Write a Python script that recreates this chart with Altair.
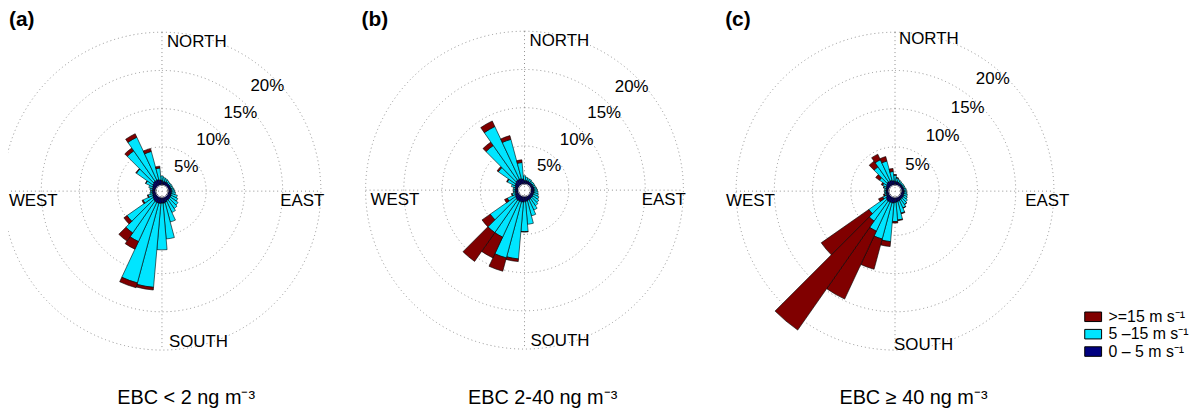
import math
import altair as alt
import pandas as pd

# ---------------- data ----------------
DIRECTIONS = list(range(0, 360, 10))          # sector centres, degrees from north
SECTOR_HALF = 5                                # half sector width (deg)
SPEED_CLASSES = [">=15 m s⁻¹", "5 –15 m s⁻¹", "0 – 5 m s⁻¹"]
SPEED_COLORS = ["#800000", "#00E5FF", "#000080"]
RING_PCTS = [5, 10, 15, 20]
RING_TEXT = ["5%", "10%", "15%", "20%"]
TAGS = ["(a)", "(b)", "(c)"]
SUBTITLES = ["EBC < 2 ng m⁻³", "EBC 2-40 ng m⁻³", "EBC ≥ 40 ng m⁻³"]

# panel (a): EBC < 2  (frequency %, per speed class)
A_0_5 = [0.6, 0.5, 0.5, 0.5, 0.45, 0.45, 0.45, 0.45, 0.5, 0.5, 0.5, 0.5,
         0.55, 0.55, 0.6, 0.6, 0.7, 0.8, 0.8, 0.85, 0.85, 0.85, 0.8, 0.7,
         0.6, 0.5, 0.5, 0.5, 0.5, 0.5, 0.6, 0.7, 0.8, 0.8, 0.8, 0.7]
A_5_15 = [0.6, 0.5, 0.4, 0.3, 0.25, 0.25, 0.25, 0.25, 0.3, 0.4, 0.5, 0.8,
          0.95, 1.25, 1.4, 1.7, 2.7, 4.7, 6.1, 11.0, 10.8, 5.65, 5.1, 4.1,
          1.35, 0.6, 0.3, 0.2, 0.3, 0.5, 0.95, 2.6, 4.85, 6.2, 3.8, 1.55]
A_15 = [0, 0, 0, 0, 0, 0, 0, 0, 0, 0, 0, 0,
        0, 0, 0, 0, 0, 0, 0, 0.35, 0.65, 1.1, 1.3, 0.5,
        0.15, 0.1, 0, 0, 0, 0, 0.05, 0.1, 0.45, 0.5, 0.4, 0.25]

# panel (b): EBC 2-40
B_0_5 = [0.5, 0.5, 0.45, 0.45, 0.45, 0.45, 0.45, 0.45, 0.5, 0.5, 0.5, 0.5,
         0.5, 0.55, 0.55, 0.6, 0.6, 0.7, 0.75, 0.8, 0.8, 0.8, 0.8, 0.7,
         0.6, 0.5, 0.45, 0.45, 0.45, 0.5, 0.6, 0.7, 0.8, 0.8, 0.8, 0.7]
B_5_15 = [0.6, 0.4, 0.35, 0.35, 0.25, 0.25, 0.25, 0.25, 0.3, 0.4, 0.5, 0.6,
          0.8, 0.95, 1.15, 1.5, 2.1, 3.0, 3.9, 7.45, 7.6, 5.2, 5.2, 4.0,
          1.1, 0.4, 0.25, 0.25, 0.25, 0.5, 1.1, 2.7, 5.55, 7.6, 5.3, 2.15]
B_15 = [0, 0, 0, 0, 0, 0, 0, 0, 0, 0, 0, 0,
        0, 0, 0, 0, 0, 0, 0.05, 0.35, 1.8, 3.0, 4.6, 1.3,
        0.4, 0.1, 0, 0, 0, 0, 0.1, 0.2, 0.55, 0.8, 0.5, 0.35]

# panel (c): EBC >= 40
C_0_5 = [0.5, 0.5, 0.45, 0.4, 0.4, 0.4, 0.4, 0.4, 0.4, 0.45, 0.45, 0.45,
         0.5, 0.5, 0.5, 0.55, 0.6, 0.65, 0.7, 0.8, 0.8, 0.8, 0.8, 0.7,
         0.5, 0.45, 0.4, 0.4, 0.4, 0.45, 0.5, 0.6, 0.7, 0.7, 0.7, 0.6]
C_5_15 = [0.8, 0.45, 0.35, 0.3, 0.2, 0.2, 0.2, 0.2, 0.3, 0.25, 0.35, 0.45,
          0.5, 0.7, 0.85, 1.1, 1.6, 2.35, 2.5, 5.05, 4.9, 4.2, 3.2, 2.7,
          0.5, 0.2, 0.2, 0.2, 0.2, 0.3, 0.5, 1.1, 2.4, 3.05, 2.6, 1.2]
C_15 = [0.1, 0.05, 0, 0, 0, 0, 0, 0, 0, 0, 0, 0,
        0, 0, 0.05, 0.05, 0.1, 0.1, 0.2, 0.65, 4.1, 9.8, 17.4, 7.6,
        0.6, 0.15, 0, 0, 0, 0.05, 0.2, 0.6, 0.9, 0.8, 0.6, 0.4]

PANEL_DATA = [(A_0_5, A_5_15, A_15), (B_0_5, B_5_15, B_15), (C_0_5, C_5_15, C_15)]

# ---------------- layout (page pixels) ----------------
PAD = 5
M = 8 + PAD  # page margin + chart padding
LAYOUT = [
    dict(cx=163, cy=191, lab_theta=45, north=(168, 46), south=(170, 348),
         west=(58, 206), east=(282, 206), tag=(9, 25), sub=(118, 405)),
    dict(cx=528, cy=190, lab_theta=46, north=(533, 45), south=(534, 347),
         west=(422, 205), east=(646, 205), tag=(364, 25), sub=(471, 405)),
    dict(cx=901, cy=191, lab_theta=41, north=(905, 43), south=(900, 351),
         west=(780, 206), east=(1032, 206), tag=(730, 25), sub=(845, 405)),
]
R_OUT = 160
FONT = "Liberation Sans"
GRID = "#8f8f8f"

theta_scale = alt.Scale(domain=[0, 360], range=[0, 2 * math.pi])
radius_scale = alt.Scale(type="linear", domain=[0, 20], range=[6, R_OUT],
                         zero=False, nice=False)
color_scale = alt.Scale(domain=SPEED_CLASSES, range=SPEED_COLORS)

legend = alt.Legend(orient="none", legendX=1084 - PAD, legendY=301 - PAD, title=None,
                    symbolType="M-1.06,-0.6H1.06V0.6H-1.06Z", symbolSize=256,
                    symbolStrokeColor="black", symbolStrokeWidth=1, symbolOpacity=1,
                    labelFont=FONT, labelFontSize=16, labelColor="black",
                    labelOffset=7, rowPadding=0.5, padding=0, labelLimit=200)

layers = []
for p, (low, mid, high) in enumerate(PANEL_DATA):
    L = LAYOUT[p]
    cx, cy = L["cx"] - M, L["cy"] - M

    # spokes
    layers.append(alt.Chart(pd.DataFrame({"k": [0]})).mark_rule(
        stroke=GRID, strokeDash=[1, 3], strokeWidth=1).encode(
        x=alt.value(cx), y=alt.value(cy - R_OUT), y2=alt.value(cy + R_OUT)))
    layers.append(alt.Chart(pd.DataFrame({"k": [0]})).mark_rule(
        stroke=GRID, strokeDash=[1, 3], strokeWidth=1).encode(
        x=alt.value(cx - R_OUT), x2=alt.value(cx + R_OUT), y=alt.value(cy)))

    # rings
    rings = pd.DataFrame({"pct": RING_PCTS, "t0": [0] * 4, "t1": [360] * 4})
    layers.append(alt.Chart(rings).mark_arc(
        fillOpacity=0, stroke=GRID, strokeDash=[1, 3], strokeWidth=1).encode(
        x=alt.value(cx), y=alt.value(cy),
        theta=alt.Theta("t0:Q", scale=theta_scale, stack=None), theta2="t1:Q",
        radius=alt.Radius("pct:Q", scale=radius_scale, stack=None)))

    # stacked sectors
    rows = []
    for i, d in enumerate(DIRECTIONS):
        base = 0.0
        for label, val in ((SPEED_CLASSES[2], low[i]), (SPEED_CLASSES[1], mid[i]),
                           (SPEED_CLASSES[0], high[i])):
            if val > 0:
                rows.append(dict(t0=d - SECTOR_HALF, t1=d + SECTOR_HALF,
                                 r0=base, r1=base + val, speed=label))
            base += val
    bars = pd.DataFrame(rows)
    layers.append(alt.Chart(bars).mark_arc(stroke="black", strokeWidth=0.6).encode(
        x=alt.value(cx), y=alt.value(cy),
        theta=alt.Theta("t0:Q", scale=theta_scale, stack=None), theta2="t1:Q",
        radius=alt.Radius("r1:Q", scale=radius_scale, stack=None), radius2="r0:Q",
        color=alt.Color("speed:N", scale=color_scale, legend=legend if p == 0 else None)))

    # white hub
    hub = pd.DataFrame({"pct": [0], "t0": [0], "t1": [360]})
    layers.append(alt.Chart(hub).mark_arc(fill="white", radiusOffset=0.5).encode(
        x=alt.value(cx), y=alt.value(cy),
        theta=alt.Theta("t0:Q", scale=theta_scale, stack=None), theta2="t1:Q",
        radius=alt.Radius("pct:Q", scale=radius_scale, stack=None)))

    # ring labels
    rl = pd.DataFrame({"pct": RING_PCTS, "txt": RING_TEXT, "ang": [L["lab_theta"]] * 4})
    layers.append(alt.Chart(rl).mark_text(
        font=FONT, fontSize=17, color="black", radiusOffset=-10,
        align="center", baseline="middle").encode(
        x=alt.value(cx), y=alt.value(cy),
        theta=alt.Theta("ang:Q", scale=theta_scale, stack=None),
        radius=alt.Radius("pct:Q", scale=radius_scale, stack=None),
        text="txt:N"))

    # compass labels
    for name, key, align in (("NORTH", "north", "left"), ("SOUTH", "south", "left"),
                             ("EAST", "east", "left"), ("WEST", "west", "right")):
        px, py = L[key]
        layers.append(alt.Chart(pd.DataFrame({"k": [0]})).mark_text(
            text=name, font=FONT, fontSize=17, color="black",
            align=align, baseline="alphabetic").encode(
            x=alt.value(px - M), y=alt.value(py - M)))

    # panel tag
    tx, ty = L["tag"]
    layers.append(alt.Chart(pd.DataFrame({"k": [0]})).mark_text(
        text=TAGS[p], font=FONT, fontSize=21, fontWeight="bold", color="black",
        align="left", baseline="alphabetic").encode(
        x=alt.value(tx - M), y=alt.value(ty - M)))

    # subtitle
    sx, sy = L["sub"]
    layers.append(alt.Chart(pd.DataFrame({"k": [0]})).mark_text(
        text=SUBTITLES[p], font=FONT, fontSize=20, color="black",
        align="left", baseline="alphabetic").encode(
        x=alt.value(sx - M), y=alt.value(sy - M)))

chart = alt.layer(*layers).properties(
    width=1182, height=395, padding=PAD,
    autosize=alt.AutoSizeParams(type="none"),
).configure(font=FONT).configure_view(stroke=None)

chart.save("out.html", embed_options={"renderer": "svg", "actions": False})
